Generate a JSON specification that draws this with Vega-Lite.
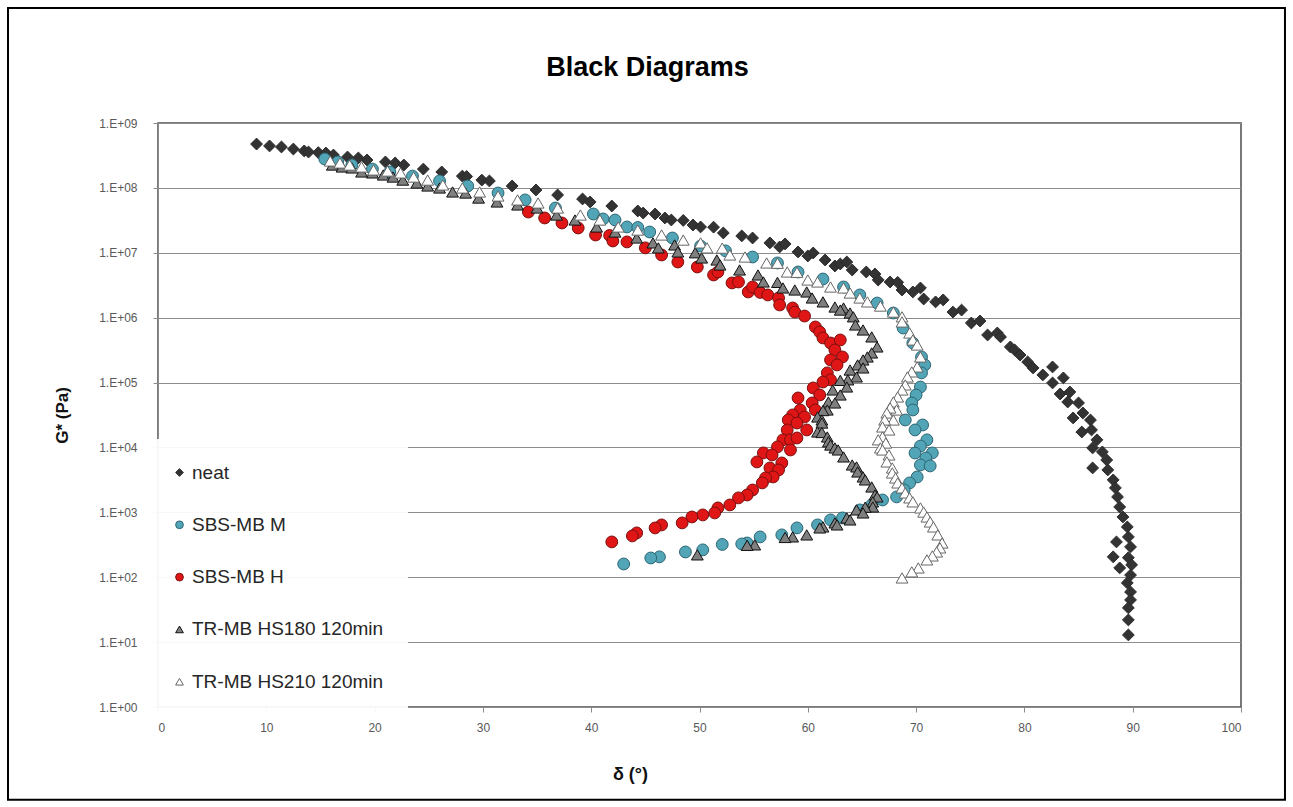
{
  "$schema": "https://vega.github.io/schema/vega-lite/v6.json",
  "width": 1083,
  "height": 584,
  "autosize": {"type": "none"},
  "padding": {"left": 158, "top": 123, "right": 52, "bottom": 100},
  "background": "white",
  "title": {
    "text": "Black Diagrams",
    "font": "Liberation Sans",
    "fontSize": 27,
    "fontWeight": "bold",
    "color": "#000000",
    "anchor": "middle",
    "baseline": "alphabetic",
    "offset": -96,
    "dx": -52
  },
  "config": {
    "font": "Liberation Sans",
    "view": {"stroke": "#4d4d4d", "strokeWidth": 1.5},
    "legend": {
      "orient": "none",
      "legendX": -12,
      "legendY": 316,
      "padding": 24,
      "rowPadding": 32.3,
      "fillColor": "rgba(255,255,255,0.94)",
      "labelFont": "Liberation Sans",
      "labelFontSize": 19,
      "labelColor": "#262626",
      "labelOffset": 3,
      "labelLimit": 400,
      "symbolSize": 60,
      "symbolStrokeWidth": 1
    }
  },
  "datasets": {
    "black": [
      {"series": "neat", "delta": 9.1, "G": 4.74e8},
      {"series": "neat", "delta": 10.3, "G": 4.43e8},
      {"series": "neat", "delta": 11.4, "G": 4.27e8},
      {"series": "neat", "delta": 12.5, "G": 3.97e8},
      {"series": "neat", "delta": 13.5, "G": 3.71e8},
      {"series": "neat", "delta": 13.9, "G": 3.57e8},
      {"series": "neat", "delta": 14.8, "G": 3.5e8},
      {"series": "neat", "delta": 15.5, "G": 3.45e8},
      {"series": "neat", "delta": 16.2, "G": 3.21e8},
      {"series": "neat", "delta": 17.5, "G": 2.99e8},
      {"series": "neat", "delta": 18.5, "G": 2.89e8},
      {"series": "neat", "delta": 19.3, "G": 2.69e8},
      {"series": "neat", "delta": 21.0, "G": 2.51e8},
      {"series": "neat", "delta": 21.9, "G": 2.42e8},
      {"series": "neat", "delta": 22.7, "G": 2.25e8},
      {"series": "neat", "delta": 24.5, "G": 1.95e8},
      {"series": "neat", "delta": 26.2, "G": 1.76e8},
      {"series": "neat", "delta": 28.1, "G": 1.52e8},
      {"series": "neat", "delta": 28.5, "G": 1.5e8},
      {"series": "neat", "delta": 29.9, "G": 1.32e8},
      {"series": "neat", "delta": 30.6, "G": 1.28e8},
      {"series": "neat", "delta": 32.7, "G": 1.07e8},
      {"series": "neat", "delta": 34.9, "G": 9.29e7},
      {"series": "neat", "delta": 36.9, "G": 7.78e7},
      {"series": "neat", "delta": 39.2, "G": 6.75e7},
      {"series": "neat", "delta": 39.9, "G": 6.07e7},
      {"series": "neat", "delta": 41.9, "G": 5.26e7},
      {"series": "neat", "delta": 44.3, "G": 4.41e7},
      {"series": "neat", "delta": 44.8, "G": 4.1e7},
      {"series": "neat", "delta": 45.9, "G": 3.96e7},
      {"series": "neat", "delta": 46.8, "G": 3.44e7},
      {"series": "neat", "delta": 47.4, "G": 3.2e7},
      {"series": "neat", "delta": 48.5, "G": 3.15e7},
      {"series": "neat", "delta": 49.4, "G": 2.68e7},
      {"series": "neat", "delta": 50.1, "G": 2.5e7},
      {"series": "neat", "delta": 51.3, "G": 2.48e7},
      {"series": "neat", "delta": 52.2, "G": 2.02e7},
      {"series": "neat", "delta": 53.9, "G": 1.82e7},
      {"series": "neat", "delta": 54.9, "G": 1.69e7},
      {"series": "neat", "delta": 56.5, "G": 1.42e7},
      {"series": "neat", "delta": 57.4, "G": 1.23e7},
      {"series": "neat", "delta": 57.9, "G": 1.37e7},
      {"series": "neat", "delta": 59.1, "G": 1.03e7},
      {"series": "neat", "delta": 60.0, "G": 8.93e6},
      {"series": "neat", "delta": 60.5, "G": 9.93e6},
      {"series": "neat", "delta": 61.6, "G": 7.74e6},
      {"series": "neat", "delta": 62.5, "G": 6.26e6},
      {"series": "neat", "delta": 63.0, "G": 6.72e6},
      {"series": "neat", "delta": 63.6, "G": 7.21e6},
      {"series": "neat", "delta": 64.1, "G": 5.43e6},
      {"series": "neat", "delta": 65.4, "G": 5.06e6},
      {"series": "neat", "delta": 66.2, "G": 4.71e6},
      {"series": "neat", "delta": 66.5, "G": 3.81e6},
      {"series": "neat", "delta": 67.6, "G": 3.55e6},
      {"series": "neat", "delta": 68.3, "G": 3.5e6},
      {"series": "neat", "delta": 68.7, "G": 2.67e6},
      {"series": "neat", "delta": 69.7, "G": 2.49e6},
      {"series": "neat", "delta": 70.4, "G": 2.87e6},
      {"series": "neat", "delta": 70.7, "G": 1.94e6},
      {"series": "neat", "delta": 71.8, "G": 1.75e6},
      {"series": "neat", "delta": 72.5, "G": 1.88e6},
      {"series": "neat", "delta": 73.4, "G": 1.22e6},
      {"series": "neat", "delta": 74.2, "G": 1.31e6},
      {"series": "neat", "delta": 75.1, "G": 8.28e5},
      {"series": "neat", "delta": 75.9, "G": 8.89e5},
      {"series": "neat", "delta": 76.6, "G": 5.41e5},
      {"series": "neat", "delta": 77.5, "G": 5.81e5},
      {"series": "neat", "delta": 77.8, "G": 5.05e5},
      {"series": "neat", "delta": 78.7, "G": 3.54e5},
      {"series": "neat", "delta": 79.1, "G": 3.18e5},
      {"series": "neat", "delta": 79.6, "G": 2.66e5},
      {"series": "neat", "delta": 80.3, "G": 2.08e5},
      {"series": "neat", "delta": 80.8, "G": 1.68e5},
      {"series": "neat", "delta": 81.7, "G": 1.31e5},
      {"series": "neat", "delta": 82.6, "G": 1.74e5},
      {"series": "neat", "delta": 82.6, "G": 9.86e4},
      {"series": "neat", "delta": 83.6, "G": 1.18e5},
      {"series": "neat", "delta": 83.3, "G": 6.67e4},
      {"series": "neat", "delta": 84.2, "G": 7.16e4},
      {"series": "neat", "delta": 84.0, "G": 5.02e4},
      {"series": "neat", "delta": 85.0, "G": 4.85e4},
      {"series": "neat", "delta": 85.4, "G": 3.4e4},
      {"series": "neat", "delta": 84.5, "G": 2.85e4},
      {"series": "neat", "delta": 86.1, "G": 2.65e4},
      {"series": "neat", "delta": 85.3, "G": 1.73e4},
      {"series": "neat", "delta": 86.2, "G": 1.86e4},
      {"series": "neat", "delta": 86.7, "G": 1.31e4},
      {"series": "neat", "delta": 86.3, "G": 9.83e3},
      {"series": "neat", "delta": 87.2, "G": 8.53e3},
      {"series": "neat", "delta": 87.6, "G": 6.41e3},
      {"series": "neat", "delta": 86.3, "G": 4.83e3},
      {"series": "neat", "delta": 87.7, "G": 4.5e3},
      {"series": "neat", "delta": 88.2, "G": 3.16e3},
      {"series": "neat", "delta": 88.4, "G": 2.38e3},
      {"series": "neat", "delta": 88.6, "G": 1.73e3},
      {"series": "neat", "delta": 88.8, "G": 1.21e3},
      {"series": "neat", "delta": 89.1, "G": 849},
      {"series": "neat", "delta": 89.5, "G": 596},
      {"series": "neat", "delta": 88.5, "G": 350},
      {"series": "neat", "delta": 89.6, "G": 418},
      {"series": "neat", "delta": 89.8, "G": 293},
      {"series": "neat", "delta": 88.2, "G": 206},
      {"series": "neat", "delta": 89.6, "G": 200},
      {"series": "neat", "delta": 88.8, "G": 139},
      {"series": "neat", "delta": 89.9, "G": 155},
      {"series": "neat", "delta": 89.8, "G": 108},
      {"series": "neat", "delta": 89.5, "G": 81.7},
      {"series": "neat", "delta": 89.8, "G": 59.3},
      {"series": "neat", "delta": 89.8, "G": 44.7},
      {"series": "neat", "delta": 89.6, "G": 33.7},
      {"series": "neat", "delta": 89.6, "G": 22.0},
      {"series": "neat", "delta": 89.6, "G": 12.9},

      {"series": "SBS-MB M", "delta": 15.4, "G": 2.79e8},
      {"series": "SBS-MB M", "delta": 16.6, "G": 2.51e8},
      {"series": "SBS-MB M", "delta": 17.9, "G": 2.25e8},
      {"series": "SBS-MB M", "delta": 19.8, "G": 1.95e8},
      {"series": "SBS-MB M", "delta": 21.4, "G": 1.76e8},
      {"series": "SBS-MB M", "delta": 23.5, "G": 1.52e8},
      {"series": "SBS-MB M", "delta": 26.0, "G": 1.28e8},
      {"series": "SBS-MB M", "delta": 28.6, "G": 1.07e8},
      {"series": "SBS-MB M", "delta": 31.4, "G": 8.34e7},
      {"series": "SBS-MB M", "delta": 33.9, "G": 6.52e7},
      {"series": "SBS-MB M", "delta": 36.7, "G": 4.9e7},
      {"series": "SBS-MB M", "delta": 40.2, "G": 3.96e7},
      {"series": "SBS-MB M", "delta": 41.1, "G": 3.32e7},
      {"series": "SBS-MB M", "delta": 42.2, "G": 3.2e7},
      {"series": "SBS-MB M", "delta": 43.3, "G": 2.5e7},
      {"series": "SBS-MB M", "delta": 44.3, "G": 2.45e7},
      {"series": "SBS-MB M", "delta": 45.4, "G": 2.09e7},
      {"series": "SBS-MB M", "delta": 47.5, "G": 1.69e7},
      {"series": "SBS-MB M", "delta": 50.1, "G": 1.27e7},
      {"series": "SBS-MB M", "delta": 52.4, "G": 1.07e7},
      {"series": "SBS-MB M", "delta": 54.9, "G": 8.61e6},
      {"series": "SBS-MB M", "delta": 57.2, "G": 6.97e6},
      {"series": "SBS-MB M", "delta": 59.1, "G": 5.06e6},
      {"series": "SBS-MB M", "delta": 61.4, "G": 3.94e6},
      {"series": "SBS-MB M", "delta": 63.3, "G": 2.97e6},
      {"series": "SBS-MB M", "delta": 64.8, "G": 2.24e6},
      {"series": "SBS-MB M", "delta": 66.4, "G": 1.68e6},
      {"series": "SBS-MB M", "delta": 67.9, "G": 1.18e6},
      {"series": "SBS-MB M", "delta": 68.8, "G": 6.93e5},
      {"series": "SBS-MB M", "delta": 69.7, "G": 4.07e5},
      {"series": "SBS-MB M", "delta": 70.5, "G": 2.48e5},
      {"series": "SBS-MB M", "delta": 70.8, "G": 1.87e5},
      {"series": "SBS-MB M", "delta": 70.5, "G": 1.41e5},
      {"series": "SBS-MB M", "delta": 70.4, "G": 8.55e4},
      {"series": "SBS-MB M", "delta": 70.0, "G": 6.44e4},
      {"series": "SBS-MB M", "delta": 69.6, "G": 4.85e4},
      {"series": "SBS-MB M", "delta": 69.7, "G": 3.78e4},
      {"series": "SBS-MB M", "delta": 69.0, "G": 2.65e4},
      {"series": "SBS-MB M", "delta": 70.6, "G": 2.22e4},
      {"series": "SBS-MB M", "delta": 69.9, "G": 1.86e4},
      {"series": "SBS-MB M", "delta": 71.0, "G": 1.31e4},
      {"series": "SBS-MB M", "delta": 70.4, "G": 1.05e4},
      {"series": "SBS-MB M", "delta": 71.5, "G": 8.23e3},
      {"series": "SBS-MB M", "delta": 69.9, "G": 8.2e3},
      {"series": "SBS-MB M", "delta": 70.9, "G": 6.89e3},
      {"series": "SBS-MB M", "delta": 70.4, "G": 5.37e3},
      {"series": "SBS-MB M", "delta": 71.3, "G": 5.19e3},
      {"series": "SBS-MB M", "delta": 70.1, "G": 3.51e3},
      {"series": "SBS-MB M", "delta": 69.4, "G": 2.84e3},
      {"series": "SBS-MB M", "delta": 68.9, "G": 2.21e3},
      {"series": "SBS-MB M", "delta": 68.2, "G": 1.73e3},
      {"series": "SBS-MB M", "delta": 66.9, "G": 1.55e3},
      {"series": "SBS-MB M", "delta": 65.9, "G": 1.3e3},
      {"series": "SBS-MB M", "delta": 64.8, "G": 1.09e3},
      {"series": "SBS-MB M", "delta": 63.2, "G": 820},
      {"series": "SBS-MB M", "delta": 62.1, "G": 764},
      {"series": "SBS-MB M", "delta": 60.9, "G": 640},
      {"series": "SBS-MB M", "delta": 59.0, "G": 575},
      {"series": "SBS-MB M", "delta": 57.6, "G": 449},
      {"series": "SBS-MB M", "delta": 55.6, "G": 418},
      {"series": "SBS-MB M", "delta": 54.4, "G": 337},
      {"series": "SBS-MB M", "delta": 53.9, "G": 326},
      {"series": "SBS-MB M", "delta": 52.1, "G": 320},
      {"series": "SBS-MB M", "delta": 50.3, "G": 264},
      {"series": "SBS-MB M", "delta": 48.7, "G": 245},
      {"series": "SBS-MB M", "delta": 46.3, "G": 206},
      {"series": "SBS-MB M", "delta": 45.5, "G": 198},
      {"series": "SBS-MB M", "delta": 43.0, "G": 160},

      {"series": "SBS-MB H", "delta": 34.2, "G": 4.25e7},
      {"series": "SBS-MB H", "delta": 35.7, "G": 3.44e7},
      {"series": "SBS-MB H", "delta": 37.3, "G": 2.88e7},
      {"series": "SBS-MB H", "delta": 38.8, "G": 2.41e7},
      {"series": "SBS-MB H", "delta": 40.4, "G": 1.88e7},
      {"series": "SBS-MB H", "delta": 41.7, "G": 1.85e7},
      {"series": "SBS-MB H", "delta": 42.0, "G": 1.52e7},
      {"series": "SBS-MB H", "delta": 43.3, "G": 1.47e7},
      {"series": "SBS-MB H", "delta": 45.0, "G": 1.19e7},
      {"series": "SBS-MB H", "delta": 46.5, "G": 9.25e6},
      {"series": "SBS-MB H", "delta": 48.0, "G": 7.21e6},
      {"series": "SBS-MB H", "delta": 49.8, "G": 6.04e6},
      {"series": "SBS-MB H", "delta": 51.3, "G": 4.55e6},
      {"series": "SBS-MB H", "delta": 51.7, "G": 5.06e6},
      {"series": "SBS-MB H", "delta": 53.0, "G": 3.43e6},
      {"series": "SBS-MB H", "delta": 53.6, "G": 3.55e6},
      {"series": "SBS-MB H", "delta": 54.5, "G": 2.49e6},
      {"series": "SBS-MB H", "delta": 54.9, "G": 2.97e6},
      {"series": "SBS-MB H", "delta": 55.6, "G": 2.45e6},
      {"series": "SBS-MB H", "delta": 56.3, "G": 2.24e6},
      {"series": "SBS-MB H", "delta": 57.3, "G": 2.01e6},
      {"series": "SBS-MB H", "delta": 57.4, "G": 1.57e6},
      {"series": "SBS-MB H", "delta": 58.6, "G": 1.41e6},
      {"series": "SBS-MB H", "delta": 58.8, "G": 1.22e6},
      {"series": "SBS-MB H", "delta": 59.7, "G": 1.06e6},
      {"series": "SBS-MB H", "delta": 60.7, "G": 7.19e5},
      {"series": "SBS-MB H", "delta": 61.1, "G": 6.03e5},
      {"series": "SBS-MB H", "delta": 61.4, "G": 4.87e5},
      {"series": "SBS-MB H", "delta": 62.1, "G": 4.07e5},
      {"series": "SBS-MB H", "delta": 63.0, "G": 4.53e5},
      {"series": "SBS-MB H", "delta": 62.5, "G": 3.18e5},
      {"series": "SBS-MB H", "delta": 63.2, "G": 2.48e5},
      {"series": "SBS-MB H", "delta": 62.1, "G": 2.23e5},
      {"series": "SBS-MB H", "delta": 62.7, "G": 1.87e5},
      {"series": "SBS-MB H", "delta": 61.8, "G": 1.41e5},
      {"series": "SBS-MB H", "delta": 62.1, "G": 1.1e5},
      {"series": "SBS-MB H", "delta": 61.4, "G": 1.02e5},
      {"series": "SBS-MB H", "delta": 60.5, "G": 8.26e4},
      {"series": "SBS-MB H", "delta": 61.1, "G": 6.44e4},
      {"series": "SBS-MB H", "delta": 60.4, "G": 4.85e4},
      {"series": "SBS-MB H", "delta": 59.1, "G": 5.79e4},
      {"series": "SBS-MB H", "delta": 59.3, "G": 3.78e4},
      {"series": "SBS-MB H", "delta": 60.7, "G": 3.78e4},
      {"series": "SBS-MB H", "delta": 58.6, "G": 3.17e4},
      {"series": "SBS-MB H", "delta": 59.7, "G": 2.95e4},
      {"series": "SBS-MB H", "delta": 58.2, "G": 2.65e4},
      {"series": "SBS-MB H", "delta": 59.0, "G": 2.38e4},
      {"series": "SBS-MB H", "delta": 58.1, "G": 1.86e4},
      {"series": "SBS-MB H", "delta": 59.9, "G": 1.86e4},
      {"series": "SBS-MB H", "delta": 57.7, "G": 1.31e4},
      {"series": "SBS-MB H", "delta": 58.4, "G": 1.31e4},
      {"series": "SBS-MB H", "delta": 59.0, "G": 1.4e4},
      {"series": "SBS-MB H", "delta": 57.2, "G": 1.02e4},
      {"series": "SBS-MB H", "delta": 58.4, "G": 9.15e3},
      {"series": "SBS-MB H", "delta": 55.9, "G": 8.23e3},
      {"series": "SBS-MB H", "delta": 56.7, "G": 7.66e3},
      {"series": "SBS-MB H", "delta": 55.3, "G": 5.98e3},
      {"series": "SBS-MB H", "delta": 57.6, "G": 5.77e3},
      {"series": "SBS-MB H", "delta": 56.5, "G": 4.83e3},
      {"series": "SBS-MB H", "delta": 57.3, "G": 4.5e3},
      {"series": "SBS-MB H", "delta": 56.8, "G": 3.51e3},
      {"series": "SBS-MB H", "delta": 56.1, "G": 3.39e3},
      {"series": "SBS-MB H", "delta": 55.8, "G": 2.84e3},
      {"series": "SBS-MB H", "delta": 54.9, "G": 2.21e3},
      {"series": "SBS-MB H", "delta": 54.4, "G": 1.85e3},
      {"series": "SBS-MB H", "delta": 53.6, "G": 1.67e3},
      {"series": "SBS-MB H", "delta": 52.8, "G": 1.3e3},
      {"series": "SBS-MB H", "delta": 51.7, "G": 1.17e3},
      {"series": "SBS-MB H", "delta": 51.4, "G": 979},
      {"series": "SBS-MB H", "delta": 50.3, "G": 912},
      {"series": "SBS-MB H", "delta": 49.3, "G": 849},
      {"series": "SBS-MB H", "delta": 48.4, "G": 687},
      {"series": "SBS-MB H", "delta": 46.5, "G": 640},
      {"series": "SBS-MB H", "delta": 45.9, "G": 575},
      {"series": "SBS-MB H", "delta": 44.2, "G": 482},
      {"series": "SBS-MB H", "delta": 43.8, "G": 433},
      {"series": "SBS-MB H", "delta": 41.9, "G": 350},

      {"series": "TR-MB HS180 120min", "delta": 16.1, "G": 2.25e8},
      {"series": "TR-MB HS180 120min", "delta": 17.0, "G": 2.1e8},
      {"series": "TR-MB HS180 120min", "delta": 17.9, "G": 2.03e8},
      {"series": "TR-MB HS180 120min", "delta": 18.8, "G": 1.76e8},
      {"series": "TR-MB HS180 120min", "delta": 19.8, "G": 1.7e8},
      {"series": "TR-MB HS180 120min", "delta": 20.8, "G": 1.58e8},
      {"series": "TR-MB HS180 120min", "delta": 21.7, "G": 1.47e8},
      {"series": "TR-MB HS180 120min", "delta": 22.6, "G": 1.32e8},
      {"series": "TR-MB HS180 120min", "delta": 23.9, "G": 1.19e8},
      {"series": "TR-MB HS180 120min", "delta": 24.9, "G": 1.07e8},
      {"series": "TR-MB HS180 120min", "delta": 26.0, "G": 9.96e7},
      {"series": "TR-MB HS180 120min", "delta": 27.2, "G": 8.65e7},
      {"series": "TR-MB HS180 120min", "delta": 28.4, "G": 8.34e7},
      {"series": "TR-MB HS180 120min", "delta": 29.6, "G": 6.98e7},
      {"series": "TR-MB HS180 120min", "delta": 31.3, "G": 6.07e7},
      {"series": "TR-MB HS180 120min", "delta": 33.2, "G": 5.46e7},
      {"series": "TR-MB HS180 120min", "delta": 35.0, "G": 4.9e7},
      {"series": "TR-MB HS180 120min", "delta": 36.8, "G": 3.82e7},
      {"series": "TR-MB HS180 120min", "delta": 38.5, "G": 3.2e7},
      {"series": "TR-MB HS180 120min", "delta": 40.5, "G": 2.5e7},
      {"series": "TR-MB HS180 120min", "delta": 42.2, "G": 2.09e7},
      {"series": "TR-MB HS180 120min", "delta": 44.2, "G": 1.69e7},
      {"series": "TR-MB HS180 120min", "delta": 45.7, "G": 1.42e7},
      {"series": "TR-MB HS180 120min", "delta": 46.2, "G": 1.19e7},
      {"series": "TR-MB HS180 120min", "delta": 47.7, "G": 1.32e7},
      {"series": "TR-MB HS180 120min", "delta": 48.0, "G": 1.03e7},
      {"series": "TR-MB HS180 120min", "delta": 49.6, "G": 1.0e7},
      {"series": "TR-MB HS180 120min", "delta": 50.2, "G": 8.32e6},
      {"series": "TR-MB HS180 120min", "delta": 51.6, "G": 7.74e6},
      {"series": "TR-MB HS180 120min", "delta": 51.9, "G": 6.49e6},
      {"series": "TR-MB HS180 120min", "delta": 53.7, "G": 5.43e6},
      {"series": "TR-MB HS180 120min", "delta": 55.4, "G": 4.55e6},
      {"series": "TR-MB HS180 120min", "delta": 55.9, "G": 3.55e6},
      {"series": "TR-MB HS180 120min", "delta": 57.2, "G": 3.5e6},
      {"series": "TR-MB HS180 120min", "delta": 57.7, "G": 2.87e6},
      {"series": "TR-MB HS180 120min", "delta": 58.8, "G": 2.67e6},
      {"series": "TR-MB HS180 120min", "delta": 59.9, "G": 2.49e6},
      {"series": "TR-MB HS180 120min", "delta": 60.4, "G": 2.01e6},
      {"series": "TR-MB HS180 120min", "delta": 61.4, "G": 1.75e6},
      {"series": "TR-MB HS180 120min", "delta": 62.5, "G": 1.46e6},
      {"series": "TR-MB HS180 120min", "delta": 63.3, "G": 1.41e6},
      {"series": "TR-MB HS180 120min", "delta": 63.0, "G": 1.31e6},
      {"series": "TR-MB HS180 120min", "delta": 63.9, "G": 1.18e6},
      {"series": "TR-MB HS180 120min", "delta": 64.2, "G": 1.03e6},
      {"series": "TR-MB HS180 120min", "delta": 64.4, "G": 7.72e5},
      {"series": "TR-MB HS180 120min", "delta": 65.1, "G": 6.46e5},
      {"series": "TR-MB HS180 120min", "delta": 65.9, "G": 5.05e5},
      {"series": "TR-MB HS180 120min", "delta": 66.4, "G": 3.54e5},
      {"series": "TR-MB HS180 120min", "delta": 65.9, "G": 2.86e5},
      {"series": "TR-MB HS180 120min", "delta": 65.5, "G": 2.48e5},
      {"series": "TR-MB HS180 120min", "delta": 65.1, "G": 2.23e5},
      {"series": "TR-MB HS180 120min", "delta": 64.6, "G": 1.87e5},
      {"series": "TR-MB HS180 120min", "delta": 65.1, "G": 1.68e5},
      {"series": "TR-MB HS180 120min", "delta": 63.9, "G": 1.56e5},
      {"series": "TR-MB HS180 120min", "delta": 64.5, "G": 1.22e5},
      {"series": "TR-MB HS180 120min", "delta": 63.7, "G": 1.1e5},
      {"series": "TR-MB HS180 120min", "delta": 63.0, "G": 1.08e5},
      {"series": "TR-MB HS180 120min", "delta": 63.6, "G": 8.55e4},
      {"series": "TR-MB HS180 120min", "delta": 62.3, "G": 7.69e4},
      {"series": "TR-MB HS180 120min", "delta": 63.0, "G": 6.44e4},
      {"series": "TR-MB HS180 120min", "delta": 61.9, "G": 5.02e4},
      {"series": "TR-MB HS180 120min", "delta": 62.5, "G": 4.85e4},
      {"series": "TR-MB HS180 120min", "delta": 61.8, "G": 3.78e4},
      {"series": "TR-MB HS180 120min", "delta": 61.4, "G": 3.7e4},
      {"series": "TR-MB HS180 120min", "delta": 60.9, "G": 2.95e4},
      {"series": "TR-MB HS180 120min", "delta": 61.3, "G": 2.65e4},
      {"series": "TR-MB HS180 120min", "delta": 61.3, "G": 2.38e4},
      {"series": "TR-MB HS180 120min", "delta": 60.9, "G": 1.73e4},
      {"series": "TR-MB HS180 120min", "delta": 61.3, "G": 1.7e4},
      {"series": "TR-MB HS180 120min", "delta": 61.8, "G": 1.45e4},
      {"series": "TR-MB HS180 120min", "delta": 61.9, "G": 1.22e4},
      {"series": "TR-MB HS180 120min", "delta": 62.1, "G": 1.09e4},
      {"series": "TR-MB HS180 120min", "delta": 62.5, "G": 9.83e3},
      {"series": "TR-MB HS180 120min", "delta": 62.8, "G": 9.15e3},
      {"series": "TR-MB HS180 120min", "delta": 63.3, "G": 7.14e3},
      {"series": "TR-MB HS180 120min", "delta": 64.1, "G": 5.37e3},
      {"series": "TR-MB HS180 120min", "delta": 64.5, "G": 5.01e3},
      {"series": "TR-MB HS180 120min", "delta": 64.6, "G": 4.19e3},
      {"series": "TR-MB HS180 120min", "delta": 65.1, "G": 3.51e3},
      {"series": "TR-MB HS180 120min", "delta": 65.3, "G": 3.16e3},
      {"series": "TR-MB HS180 120min", "delta": 65.9, "G": 2.46e3},
      {"series": "TR-MB HS180 120min", "delta": 66.2, "G": 1.85e3},
      {"series": "TR-MB HS180 120min", "delta": 66.4, "G": 1.73e3},
      {"series": "TR-MB HS180 120min", "delta": 66.0, "G": 1.45e3},
      {"series": "TR-MB HS180 120min", "delta": 66.0, "G": 1.21e3},
      {"series": "TR-MB HS180 120min", "delta": 65.3, "G": 1.2e3},
      {"series": "TR-MB HS180 120min", "delta": 64.5, "G": 1.09e3},
      {"series": "TR-MB HS180 120min", "delta": 65.1, "G": 979},
      {"series": "TR-MB HS180 120min", "delta": 63.6, "G": 820},
      {"series": "TR-MB HS180 120min", "delta": 63.9, "G": 764},
      {"series": "TR-MB HS180 120min", "delta": 62.5, "G": 687},
      {"series": "TR-MB HS180 120min", "delta": 62.7, "G": 640},
      {"series": "TR-MB HS180 120min", "delta": 61.4, "G": 596},
      {"series": "TR-MB HS180 120min", "delta": 61.1, "G": 575},
      {"series": "TR-MB HS180 120min", "delta": 59.9, "G": 449},
      {"series": "TR-MB HS180 120min", "delta": 58.6, "G": 418},
      {"series": "TR-MB HS180 120min", "delta": 57.9, "G": 410},
      {"series": "TR-MB HS180 120min", "delta": 55.1, "G": 315},
      {"series": "TR-MB HS180 120min", "delta": 54.4, "G": 310},
      {"series": "TR-MB HS180 120min", "delta": 49.8, "G": 221},

      {"series": "TR-MB HS210 120min", "delta": 15.9, "G": 2.6e8},
      {"series": "TR-MB HS210 120min", "delta": 16.8, "G": 2.42e8},
      {"series": "TR-MB HS210 120min", "delta": 17.7, "G": 2.25e8},
      {"series": "TR-MB HS210 120min", "delta": 18.8, "G": 2.1e8},
      {"series": "TR-MB HS210 120min", "delta": 19.9, "G": 1.89e8},
      {"series": "TR-MB HS210 120min", "delta": 21.2, "G": 1.82e8},
      {"series": "TR-MB HS210 120min", "delta": 22.4, "G": 1.7e8},
      {"series": "TR-MB HS210 120min", "delta": 23.6, "G": 1.47e8},
      {"series": "TR-MB HS210 120min", "delta": 24.9, "G": 1.32e8},
      {"series": "TR-MB HS210 120min", "delta": 26.3, "G": 1.11e8},
      {"series": "TR-MB HS210 120min", "delta": 28.1, "G": 9.96e7},
      {"series": "TR-MB HS210 120min", "delta": 29.7, "G": 8.65e7},
      {"series": "TR-MB HS210 120min", "delta": 31.4, "G": 7.5e7},
      {"series": "TR-MB HS210 120min", "delta": 33.2, "G": 6.52e7},
      {"series": "TR-MB HS210 120min", "delta": 35.1, "G": 5.85e7},
      {"series": "TR-MB HS210 120min", "delta": 36.9, "G": 4.9e7},
      {"series": "TR-MB HS210 120min", "delta": 39.0, "G": 3.82e7},
      {"series": "TR-MB HS210 120min", "delta": 40.8, "G": 3.2e7},
      {"series": "TR-MB HS210 120min", "delta": 42.5, "G": 2.5e7},
      {"series": "TR-MB HS210 120min", "delta": 44.3, "G": 2.24e7},
      {"series": "TR-MB HS210 120min", "delta": 46.5, "G": 1.88e7},
      {"series": "TR-MB HS210 120min", "delta": 48.5, "G": 1.57e7},
      {"series": "TR-MB HS210 120min", "delta": 50.1, "G": 1.42e7},
      {"series": "TR-MB HS210 120min", "delta": 50.7, "G": 1.19e7},
      {"series": "TR-MB HS210 120min", "delta": 52.1, "G": 1.18e7},
      {"series": "TR-MB HS210 120min", "delta": 52.8, "G": 9.25e6},
      {"series": "TR-MB HS210 120min", "delta": 54.2, "G": 8.61e6},
      {"series": "TR-MB HS210 120min", "delta": 56.2, "G": 6.97e6},
      {"series": "TR-MB HS210 120min", "delta": 57.2, "G": 6.9e6},
      {"series": "TR-MB HS210 120min", "delta": 58.1, "G": 5.06e6},
      {"series": "TR-MB HS210 120min", "delta": 59.0, "G": 5.0e6},
      {"series": "TR-MB HS210 120min", "delta": 60.0, "G": 3.81e6},
      {"series": "TR-MB HS210 120min", "delta": 60.9, "G": 3.55e6},
      {"series": "TR-MB HS210 120min", "delta": 62.1, "G": 2.97e6},
      {"series": "TR-MB HS210 120min", "delta": 63.3, "G": 2.87e6},
      {"series": "TR-MB HS210 120min", "delta": 63.9, "G": 2.4e6},
      {"series": "TR-MB HS210 120min", "delta": 64.8, "G": 2.01e6},
      {"series": "TR-MB HS210 120min", "delta": 65.5, "G": 1.75e6},
      {"series": "TR-MB HS210 120min", "delta": 66.7, "G": 1.51e6},
      {"series": "TR-MB HS210 120min", "delta": 67.9, "G": 1.22e6},
      {"series": "TR-MB HS210 120min", "delta": 68.7, "G": 1.03e6},
      {"series": "TR-MB HS210 120min", "delta": 68.7, "G": 8.59e5},
      {"series": "TR-MB HS210 120min", "delta": 69.4, "G": 5.81e5},
      {"series": "TR-MB HS210 120min", "delta": 69.7, "G": 4.53e5},
      {"series": "TR-MB HS210 120min", "delta": 70.1, "G": 3.79e5},
      {"series": "TR-MB HS210 120min", "delta": 70.4, "G": 2.48e5},
      {"series": "TR-MB HS210 120min", "delta": 70.1, "G": 1.74e5},
      {"series": "TR-MB HS210 120min", "delta": 69.6, "G": 1.46e5},
      {"series": "TR-MB HS210 120min", "delta": 69.2, "G": 1.22e5},
      {"series": "TR-MB HS210 120min", "delta": 69.0, "G": 9.19e4},
      {"series": "TR-MB HS210 120min", "delta": 68.7, "G": 7.69e4},
      {"series": "TR-MB HS210 120min", "delta": 68.3, "G": 6.0e4},
      {"series": "TR-MB HS210 120min", "delta": 67.9, "G": 5.02e4},
      {"series": "TR-MB HS210 120min", "delta": 68.2, "G": 3.78e4},
      {"series": "TR-MB HS210 120min", "delta": 67.6, "G": 4.06e4},
      {"series": "TR-MB HS210 120min", "delta": 67.3, "G": 3.4e4},
      {"series": "TR-MB HS210 120min", "delta": 67.9, "G": 2.65e4},
      {"series": "TR-MB HS210 120min", "delta": 67.1, "G": 2.65e4},
      {"series": "TR-MB HS210 120min", "delta": 66.9, "G": 2.07e4},
      {"series": "TR-MB HS210 120min", "delta": 67.5, "G": 1.86e4},
      {"series": "TR-MB HS210 120min", "delta": 66.9, "G": 1.45e4},
      {"series": "TR-MB HS210 120min", "delta": 66.5, "G": 1.31e4},
      {"series": "TR-MB HS210 120min", "delta": 67.2, "G": 1.17e4},
      {"series": "TR-MB HS210 120min", "delta": 66.7, "G": 9.83e3},
      {"series": "TR-MB HS210 120min", "delta": 66.9, "G": 9.15e3},
      {"series": "TR-MB HS210 120min", "delta": 67.5, "G": 7.66e3},
      {"series": "TR-MB HS210 120min", "delta": 67.3, "G": 5.98e3},
      {"series": "TR-MB HS210 120min", "delta": 67.8, "G": 4.83e3},
      {"series": "TR-MB HS210 120min", "delta": 67.8, "G": 4.05e3},
      {"series": "TR-MB HS210 120min", "delta": 68.1, "G": 3.39e3},
      {"series": "TR-MB HS210 120min", "delta": 68.3, "G": 2.84e3},
      {"series": "TR-MB HS210 120min", "delta": 68.7, "G": 2.38e3},
      {"series": "TR-MB HS210 120min", "delta": 69.0, "G": 1.99e3},
      {"series": "TR-MB HS210 120min", "delta": 69.4, "G": 1.67e3},
      {"series": "TR-MB HS210 120min", "delta": 69.7, "G": 1.45e3},
      {"series": "TR-MB HS210 120min", "delta": 70.4, "G": 1.17e3},
      {"series": "TR-MB HS210 120min", "delta": 70.7, "G": 1.01e3},
      {"series": "TR-MB HS210 120min", "delta": 71.0, "G": 849},
      {"series": "TR-MB HS210 120min", "delta": 71.3, "G": 711},
      {"series": "TR-MB HS210 120min", "delta": 71.6, "G": 596},
      {"series": "TR-MB HS210 120min", "delta": 72.0, "G": 449},
      {"series": "TR-MB HS210 120min", "delta": 72.4, "G": 337},
      {"series": "TR-MB HS210 120min", "delta": 72.2, "G": 283},
      {"series": "TR-MB HS210 120min", "delta": 71.9, "G": 245},
      {"series": "TR-MB HS210 120min", "delta": 71.5, "G": 213},
      {"series": "TR-MB HS210 120min", "delta": 71.0, "G": 185},
      {"series": "TR-MB HS210 120min", "delta": 70.2, "G": 139},
      {"series": "TR-MB HS210 120min", "delta": 69.6, "G": 121},
      {"series": "TR-MB HS210 120min", "delta": 68.7, "G": 97.5}
    ]
  },
  "layer": [
    {
      "description": "Outer frame of the chart area",
      "data": {"values": [{}]},
      "mark": {"type": "rect", "fill": null, "stroke": "#000000", "strokeWidth": 2, "clip": false},
      "encoding": {
        "x": {"datum": -13.85, "type": "quantitative"},
        "x2": {"datum": 104.06},
        "y": {"datum": 5.92e10, "type": "quantitative"},
        "y2": {"datum": 0.0371}
      }
    },
    {
      "data": {"name": "black"},
      "mark": {"type": "point", "filled": true, "opacity": 1, "strokeWidth": 1, "clip": false},
      "encoding": {
        "x": {
          "field": "delta",
          "type": "quantitative",
          "scale": {"domain": [0, 100], "nice": false, "zero": false},
          "axis": {
            "values": [0, 10, 20, 30, 40, 50, 60, 70, 80, 90, 100],
            "grid": false,
            "domainColor": "#8c8c8c",
            "tickColor": "#8c8c8c",
            "tickSize": 5,
            "labelPadding": 10,
            "labelFontSize": 12,
            "labelColor": "#595959",
            "title": "δ (°)",
            "titleFontSize": 18,
            "titleFontWeight": "bold",
            "titleColor": "#111111",
            "titleX": 472,
            "titleY": 72,
            "titleBaseline": "alphabetic"
          }
        },
        "y": {
          "field": "G",
          "type": "quantitative",
          "scale": {"type": "log", "domain": [1, 1000000000], "nice": false},
          "axis": {
            "values": [1, 10, 100, 1000, 10000, 100000, 1000000, 10000000, 100000000, 1000000000],
            "labelExpr": "'1.E+' + format(round(log(datum.value) / LN10), '02d')",
            "grid": true,
            "gridColor": "#8c8c8c",
            "gridWidth": 1,
            "domainColor": "#8c8c8c",
            "tickColor": "#8c8c8c",
            "tickSize": 5,
            "labelPadding": 16,
            "labelFontSize": 12,
            "labelColor": "#595959",
            "title": "G* (Pa)",
            "titleFontSize": 17,
            "titleFontWeight": "bold",
            "titleColor": "#111111",
            "titlePadding": 27
          }
        },
        "shape": {
          "field": "series",
          "type": "nominal",
          "title": null,
          "scale": {
            "domain": ["neat", "SBS-MB M", "SBS-MB H", "TR-MB HS180 120min", "TR-MB HS210 120min"],
            "range": ["diamond", "circle", "circle", "triangle-up", "triangle-up"]
          }
        },
        "fill": {
          "field": "series",
          "type": "nominal",
          "title": null,
          "scale": {
            "domain": ["neat", "SBS-MB M", "SBS-MB H", "TR-MB HS180 120min", "TR-MB HS210 120min"],
            "range": ["#333333", "#52a5b6", "#e01515", "#7f7f7f", "#ffffff"]
          }
        },
        "stroke": {
          "field": "series",
          "type": "nominal",
          "title": null,
          "scale": {
            "domain": ["neat", "SBS-MB M", "SBS-MB H", "TR-MB HS180 120min", "TR-MB HS210 120min"],
            "range": ["#2b2b2b", "#2c6675", "#7a1010", "#111111", "#666666"]
          }
        },
        "size": {
          "field": "series",
          "type": "nominal",
          "scale": {
            "domain": ["TR-MB HS210 120min", "TR-MB HS180 120min", "SBS-MB H", "SBS-MB M", "neat"],
            "range": [140, 140, 81, 81, 115]
          },
          "legend": null
        }
      }
    }
  ]
}
